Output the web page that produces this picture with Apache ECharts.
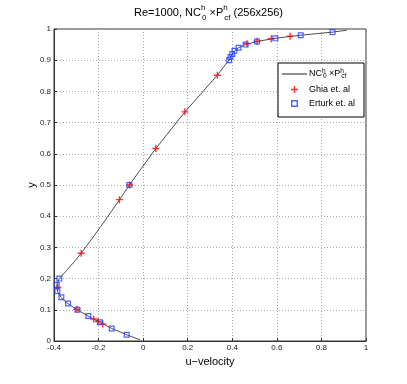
<!DOCTYPE html>
<html>
<head>
<meta charset="utf-8">
<script src="https://cdn.jsdelivr.net/npm/echarts@6/dist/echarts.min.js"></script>
<style>
  html, body { margin: 0; padding: 0; background: #fff; }
</style>
</head>
<body>
<!-- chart container, same size as the window -->
<div id="main" style="width: 407px; height: 384px"></div>
<script>
// computed centreline profile (256x256)
var curveU = [-0.015, -0.074, -0.140, -0.195, -0.247, -0.296, -0.338, -0.369, -0.385, -0.388, -0.377,
  -0.345, -0.312, -0.278, -0.190, -0.106, -0.062, 0.057, 0.187, 0.333, 0.368, 0.386, 0.392, 0.400,
  0.410, 0.428, 0.460, 0.511, 0.590, 0.705, 0.850, 0.913];
var curveY = [0.004, 0.02, 0.04, 0.06, 0.08, 0.10, 0.12, 0.14, 0.16, 0.18, 0.20,
  0.225, 0.252, 0.281, 0.367, 0.453, 0.50, 0.617, 0.734, 0.852, 0.885, 0.90, 0.91, 0.92,
  0.93, 0.94, 0.95, 0.96, 0.97, 0.98, 0.99, 0.996];

// Ghia et al.
var ghiaU = [0.65928, 0.57492, 0.51117, 0.46604, 0.33304, 0.18719, 0.05702, -0.06080, -0.10648,
  -0.27805, -0.38289, -0.29730, -0.22220, -0.20196, -0.18109];
var ghiaY = [0.9766, 0.9688, 0.9609, 0.9531, 0.8516, 0.7344, 0.6172, 0.5000, 0.4531,
  0.2813, 0.1719, 0.1016, 0.0703, 0.0625, 0.0547];

// Erturk et al.
var erturkU = [0.850, 0.707, 0.593, 0.511, 0.460, 0.428, 0.410, 0.400, 0.392, 0.386, -0.062,
  -0.376, -0.388, -0.385, -0.367, -0.337, -0.295, -0.246, -0.194, -0.141, -0.074];
var erturkY = [0.99, 0.98, 0.97, 0.96, 0.95, 0.94, 0.93, 0.92, 0.91, 0.90, 0.50,
  0.20, 0.18, 0.16, 0.14, 0.12, 0.10, 0.08, 0.06, 0.04, 0.02];

var xTicks = [-0.4, -0.2, 0, 0.2, 0.4, 0.6, 0.8, 1];
var yTicks = [0, 0.1, 0.2, 0.3, 0.4, 0.5, 0.6, 0.7, 0.8, 0.9, 1];

function zip(a, b) {
  return a.map(function (v, i) { return [v, b[i]]; });
}

var FONT = 'Liberation Sans, Arial, sans-serif';
// marker shapes (MATLAB '+' and 's')
var plus = 'path://M-1,-5H1V-1H5V1H1V5H-1V1H-5V-1H-1Z';
var square = 'path://M0,0H10V10H0Z M2,2V8H8V2Z';
var dash = 'path://M0,0H50V2H0Z';

var myChart = echarts.init(document.getElementById('main'), null, { renderer: 'canvas' });

var option = {
  backgroundColor: '#fff',
  animation: false,
  title: {
    text: '{m|Re=1000, NC}{sp|h}{sb|0}{m| \u00d7P}{sp|h}{sb|cf}{m| (256x256)}',
    left: 134,
    top: 4,
    padding: 0,
    textStyle: {
      fontFamily: FONT,
      fontWeight: 'normal',
      rich: {
        m: { fontSize: 11, fontFamily: FONT, fontWeight: 'normal', color: '#000', lineHeight: 18 },
        sp: { fontSize: 8, fontFamily: FONT, fontWeight: 'normal', color: '#000', lineHeight: 2, verticalAlign: 'top', width: 1 },
        sb: { fontSize: 8, fontFamily: FONT, fontWeight: 'normal', color: '#000', lineHeight: 12, verticalAlign: 'bottom' }
      }
    }
  },
  legend: {
    orient: 'vertical',
    left: 278,
    top: 63,
    padding: [5, 9, 9, 4],
    itemGap: 5,
    itemWidth: 25,
    itemHeight: 7,
    backgroundColor: '#fff',
    borderColor: '#000',
    borderWidth: 1,
    borderRadius: 0,
    data: [
      { name: 'NC', icon: dash },
      { name: 'Ghia et. al', icon: plus },
      { name: 'Erturk et. al', icon: square }
    ],
    formatter: function (name) {
      if (name === 'NC') return '{m|NC}{sp|h}{sb|0}{m| \u00d7P}{sp|h}{sb|cf}';
      return '{m|' + name + '}';
    },
    textStyle: {
      fontFamily: FONT,
      padding: [0, 0, 0, -3],
      rich: {
        m: { fontSize: 9, fontFamily: FONT, color: '#000', lineHeight: 12 },
        sp: { fontSize: 6.5, fontFamily: FONT, color: '#000', lineHeight: 3, verticalAlign: 'top', width: 1 },
        sb: { fontSize: 6.5, fontFamily: FONT, color: '#000', lineHeight: 12, verticalAlign: 'bottom' }
      }
    }
  },
  grid: {
    left: 54,
    right: 41,
    top: 29,
    bottom: 43,
    show: true,
    borderColor: '#333',
    borderWidth: 1
  },
  xAxis: {
    type: 'value',
    min: xTicks[0],
    max: xTicks[xTicks.length - 1],
    interval: 0.2,
    name: 'u\u2212velocity',
    nameLocation: 'middle',
    nameGap: 13,
    nameTextStyle: { fontFamily: FONT, fontSize: 11, color: '#000' },
    axisLine: { onZero: false, lineStyle: { color: '#333', width: 1 } },
    axisTick: { inside: true, length: 3, lineStyle: { color: '#333' } },
    axisLabel: { fontFamily: FONT, fontSize: 8, color: '#222', margin: 3 },
    splitLine: { show: true, lineStyle: { color: '#aaa', type: [1, 2], width: 1 } }
  },
  yAxis: {
    type: 'value',
    min: yTicks[0],
    max: yTicks[yTicks.length - 1],
    interval: 0.1,
    name: 'y',
    nameLocation: 'middle',
    nameGap: 17,
    nameMoveOverlap: false,
    nameTextStyle: { fontFamily: FONT, fontSize: 11, color: '#000' },
    axisLine: { onZero: false, lineStyle: { color: '#333', width: 1 } },
    axisTick: { inside: true, length: 3, lineStyle: { color: '#333' } },
    axisLabel: { fontFamily: FONT, fontSize: 8, color: '#222', margin: 3 },
    splitLine: { show: true, lineStyle: { color: '#aaa', type: [1, 2], width: 1 } }
  },
  series: [
    {
      name: 'NC',
      type: 'line',
      data: zip(curveU, curveY),
      showSymbol: false,
      symbol: 'none',
      color: '#222',
      lineStyle: { color: '#222', width: 0.8 },
      z: 2
    },
    {
      name: 'Ghia et. al',
      type: 'scatter',
      data: zip(ghiaU, ghiaY),
      symbol: plus,
      symbolSize: 7,
      itemStyle: { color: '#ff0000' },
      z: 3
    },
    {
      name: 'Erturk et. al',
      type: 'scatter',
      data: zip(erturkU, erturkY),
      symbol: square,
      symbolSize: 6,
      itemStyle: { color: '#1f3dff' },
      z: 4
    }
  ]
};

myChart.setOption(option);
</script>
</body>
</html>
